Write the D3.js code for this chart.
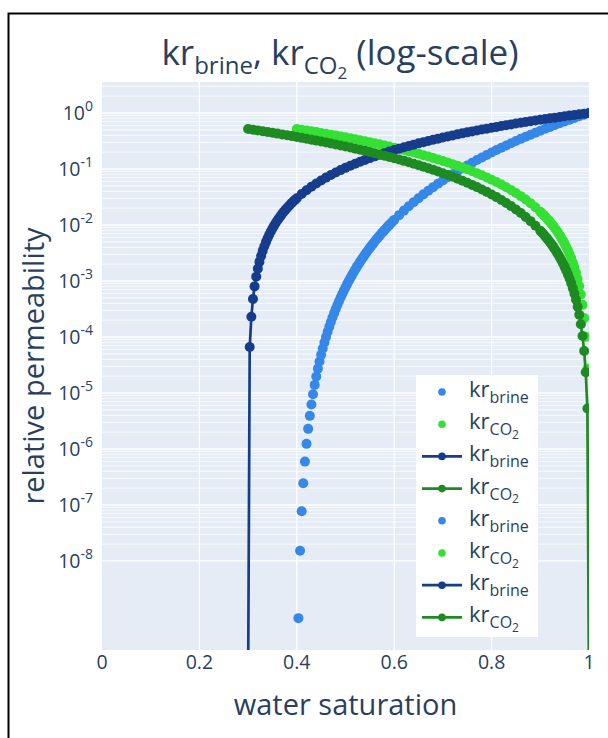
<!DOCTYPE html>
<html>
<head>
<meta charset="utf-8">
<script src="https://cdn.jsdelivr.net/npm/d3@7"></script>
<style>
  body { margin: 0; background: #fff; }
  text { font-family: "Open Sans", sans-serif; fill: #2a3f5f; }
</style>
</head>
<body>
<svg id="chart" width="608" height="738"></svg>
<script>
// ---- relative permeability data (water saturation vs kr) ----

// brine, residual water saturation 0.4 (markers only)
const satBrineA = [0.4033,0.4067,0.41,0.4133,0.4167,0.42,0.4233,0.4267,0.43,0.4333,0.4367,0.44,0.4433,0.4467,0.45,0.4533,0.4567,0.46,0.4633,0.4667,0.47,0.4733,0.4767,0.48,0.4833,0.4867,0.49,0.4933,0.4967,0.5,0.5033,0.5067,0.51,0.5133,0.5167,0.52,0.5233,0.5267,0.53,0.5333,0.5367,0.54,0.5433,0.5467,0.55,0.5533,0.5567,0.56,0.5633,0.5667,0.57,0.5733,0.5767,0.58,0.5833,0.5867,0.59,0.5933,0.5967,0.6,
  0.61,0.62,0.63,0.64,0.65,0.66,0.67,0.68,0.69,0.70,0.71,0.72,0.73,0.74,0.75,0.76,0.77,0.78,0.79,0.80,0.81,0.82,0.83,0.84,0.85,0.86,0.87,0.88,0.89,0.90,0.91,0.92,0.93,0.94,0.95,0.96,0.97,0.98,0.99,1.0];
const krBrineA = [9.53e-10,1.524e-8,7.716e-8,2.439e-7,5.954e-7,1.235e-6,2.287e-6,3.902e-6,6.250e-6,9.526e-6,1.395e-5,1.975e-5,2.721e-5,3.660e-5,4.823e-5,6.243e-5,7.956e-5,1.0e-4,1.241e-4,1.524e-4,1.853e-4,2.232e-4,2.666e-4,3.161e-4,3.721e-4,4.353e-4,5.063e-4,5.855e-4,6.738e-4,7.716e-4,8.797e-4,9.989e-4,1.1297e-3,1.273e-3,1.4295e-3,1.6e-3,1.7853e-3,1.9863e-3,2.2038e-3,2.4387e-3,2.6918e-3,2.9642e-3,3.2568e-3,3.5704e-3,3.9062e-3,4.2652e-3,4.6483e-3,5.0568e-3,5.4916e-3,5.9537e-3,6.4445e-3,6.965e-3,7.5164e-3,8.1e-3,8.7169e-3,9.3683e-3,1.00556e-2,1.078e-2,1.1543e-2,1.2346e-2,
  0.015006,0.018075,0.021593,0.0256,0.030141,0.03526,0.041006,0.047427,0.054574,0.0625,0.071259,0.080909,0.091506,0.103112,0.115789,0.1296,0.144611,0.16089,0.178506,0.197531,0.218037,0.2401,0.263796,0.289205,0.316406,0.345483,0.376519,0.4096,0.444815,0.482253,0.522006,0.564168,0.608834,0.6561,0.706067,0.758834,0.814506,0.873186,0.934981,1];

// CO2, residual water saturation 0.4 (markers only)
const satCO2A = [0.40,0.41,0.42,0.43,0.44,0.45,0.46,0.47,0.48,0.49,0.50,0.51,0.52,0.53,0.54,0.55,0.56,0.57,0.58,0.59,0.60,0.61,0.62,0.63,0.64,0.65,0.66,0.67,0.68,0.69,0.70,0.71,0.72,0.73,0.74,0.75,0.76,0.77,0.78,0.79,0.80,0.81,0.82,0.83,0.84,0.85,0.86,0.87,0.88,0.89,0.90,
  0.9033,0.9067,0.91,0.9133,0.9167,0.92,0.9233,0.9267,0.93,0.9333,0.9367,0.94,0.9433,0.9467,0.95,0.9533,0.9567,0.96,0.9633,0.9667,0.97,0.9733,0.9767,0.98,0.9833,0.9867,0.99,0.9933,0.9967];
const krCO2A = [0.5200,0.5037,0.4876,0.4717,0.4561,0.4408,0.4257,0.4108,0.3962,0.3818,0.3677,0.3539,0.3403,0.3269,0.3139,0.3010,0.2885,0.2761,0.2641,0.2522,0.2407,0.2294,0.2183,0.2075,0.1970,0.1867,0.1767,0.1670,0.1575,0.1483,0.1393,0.1306,0.1222,0.1141,0.1062,0.09854,0.09119,0.08410,0.07729,0.07077,0.06449,0.05850,0.05279,0.04736,0.04220,0.03733,0.03275,0.02845,0.02443,0.02071,0.01728,
  0.016204,0.015155,0.014147,0.013165,0.012221,0.011309,0.010430,0.009585,0.008772,0.007997,0.007256,0.006546,0.005873,0.005234,0.004630,0.004061,0.003527,0.003030,0.002568,0.002143,0.001754,0.001402,0.001088,0.000812,0.000574,0.000376,0.0002175,0.0001007,2.698e-5];

// brine, residual water saturation 0.3 (lines + markers)
const satBrineB = [0.3,0.3033,0.3067,0.31,0.3133,0.3167,0.32,0.3233,0.3267,0.33,0.3333,0.3367,0.34,0.3433,0.3467,0.35,0.3533,0.3567,0.36,0.3633,0.3667,0.37,0.3733,0.3767,0.38,0.3833,0.3867,0.39,0.3933,0.3967,0.4,
  0.41,0.42,0.43,0.44,0.45,0.46,0.47,0.48,0.49,0.50,0.51,0.52,0.53,0.54,0.55,0.56,0.57,0.58,0.59,0.60,0.61,0.62,0.63,0.64,0.65,0.66,0.67,0.68,0.69,0.70,0.71,0.72,0.73,0.74,0.75,0.76,0.77,0.78,0.79,0.80,0.81,0.82,0.83,0.84,0.85,0.86,0.87,0.88,0.89,0.90,0.91,0.92,0.93,0.94,0.95,0.96,0.97,0.98,0.99,1.0];
const krBrineB = [0,6.607e-5,2.301e-4,4.773e-4,8.013e-4,1.197e-3,1.662e-3,2.194e-3,2.791e-3,3.449e-3,4.169e-3,4.950e-3,5.788e-3,6.685e-3,7.640e-3,8.649e-3,9.715e-3,1.0834e-2,1.2007e-2,1.3236e-2,1.4512e-2,1.5849e-2,1.7233e-2,1.8665e-2,2.0156e-2,2.169e-2,2.328e-2,2.492e-2,2.660e-2,2.834e-2,3.012e-2,
  0.03574,0.04182,0.04830,0.05519,0.06249,0.07020,0.07828,0.08676,0.09563,0.10487,0.11451,0.12449,0.13488,0.14561,0.15671,0.16817,0.18000,0.19216,0.20471,0.21760,0.23085,0.24443,0.25835,0.27257,0.28717,0.30210,0.31738,0.33297,0.34891,0.36518,0.38177,0.39871,0.41598,0.43355,0.45144,0.46968,0.48822,0.50706,0.52625,0.54573,0.56551,0.58558,0.60602,0.62681,0.64788,0.66925,0.69093,0.71293,0.73521,0.75778,0.78058,0.80375,0.82722,0.85103,0.87514,0.89953,0.92418,0.94918,0.97443,1];

// CO2, residual water saturation 0.3 (lines + markers)
const satCO2B = [0.30,0.31,0.32,0.33,0.34,0.35,0.36,0.37,0.38,0.39,0.40,0.41,0.42,0.43,0.44,0.45,0.46,0.47,0.48,0.49,0.50,0.51,0.52,0.53,0.54,0.55,0.56,0.57,0.58,0.59,0.60,0.61,0.62,0.63,0.64,0.65,0.66,0.67,0.68,0.69,0.70,0.71,0.72,0.73,0.74,0.75,0.76,0.77,0.78,0.79,0.80,0.81,0.82,0.83,0.84,0.85,0.86,0.87,0.88,0.89,0.90,
  0.9033,0.9067,0.91,0.9133,0.9167,0.92,0.9233,0.9267,0.93,0.9333,0.9367,0.94,0.9433,0.9467,0.95,0.9533,0.9567,0.96,0.9633,0.9667,0.97,0.9733,0.9767,0.98,0.9833,0.9867,0.99,0.9933,0.9967,1.0];
const krCO2B = [0.5200,0.5042,0.4886,0.4733,0.4582,0.4434,0.4289,0.4146,0.4006,0.3868,0.3733,0.3600,0.3471,0.3343,0.3218,0.3096,0.2976,0.2859,0.2744,0.2632,0.2522,0.2415,0.2311,0.2208,0.2109,0.2011,0.1916,0.1824,0.1734,0.1646,0.1561,0.1478,0.1398,0.1320,0.1245,0.1172,0.1101,0.1032,0.09663,0.09026,0.08411,0.07820,0.07253,0.06706,0.06184,0.05683,0.05206,0.04751,0.04318,0.03907,0.03517,0.03150,0.02805,0.02480,0.02177,0.01895,0.01634,0.01393,0.01173,0.009728,0.007926,
  7.370e-3,6.834e-3,6.319e-3,5.826e-3,5.356e-3,4.906e-3,4.477e-3,4.069e-3,3.681e-3,3.315e-3,2.969e-3,2.643e-3,2.338e-3,2.052e-3,1.786e-3,1.539e-3,1.313e-3,1.105e-3,9.167e-4,7.469e-4,5.955e-4,4.622e-4,3.469e-4,2.490e-4,1.683e-4,1.042e-4,5.611e-5,2.347e-5,5.287e-6,0];

// axis ticks
const xTicks = [0, 0.2, 0.4, 0.6, 0.8, 1];
const yTickExponents = [0, -1, -2, -3, -4, -5, -6, -7, -8];
const yMinorDecades = [-8, -7, -6, -5, -4, -3, -2, -1, 0];
const yMinorMultiples = [2, 3, 4, 5, 6, 7, 8, 9];

// legend entries (each trace appears twice)
const legendNames = ["brine", "CO2", "brine", "CO2", "brine", "CO2", "brine", "CO2"];
const legendModes = ["markers", "markers", "lines+markers", "lines+markers", "markers", "markers", "lines+markers", "lines+markers"];

// ---- styling ----
const COLORS = { brineA: "#3587e8", co2A: "#35e035", brineB: "#163d8c", co2B: "#1e8b22" };
const legendColors = [COLORS.brineA, COLORS.co2A, COLORS.brineB, COLORS.co2B, COLORS.brineA, COLORS.co2A, COLORS.brineB, COLORS.co2B];
const plot = { left: 102, right: 589, top: 82, bottom: 650 };
const markerR = 5;

const svg = d3.select("#chart");

// outer frame
svg.append("rect").attr("x", 8.5).attr("y", 13.5).attr("width", 640).attr("height", 760)
  .attr("fill", "none").attr("stroke", "#000").attr("stroke-width", 2);

const x = d3.scaleLinear().domain([0, 1]).range([plot.left, plot.right]);
const y = d3.scaleLog().domain([Math.pow(10, -9.59), Math.pow(10, 0.554)]).range([plot.bottom, plot.top]);

// plot background
svg.append("rect").attr("x", plot.left).attr("y", plot.top)
  .attr("width", plot.right - plot.left).attr("height", plot.bottom - plot.top)
  .attr("fill", "#e5ecf6");

const grid = svg.append("g");
// minor log gridlines
yMinorDecades.forEach(e => {
  yMinorMultiples.forEach(m => {
    const v = m * Math.pow(10, e);
    const py = y(v);
    if (py < plot.top || py > plot.bottom) return;
    grid.append("line").attr("x1", plot.left).attr("x2", plot.right)
      .attr("y1", py).attr("y2", py).attr("stroke", "#fff").attr("stroke-opacity", 0.75).attr("stroke-width", 1);
  });
});
// major gridlines
yTickExponents.forEach(e => {
  const py = y(Math.pow(10, e));
  grid.append("line").attr("x1", plot.left).attr("x2", plot.right)
    .attr("y1", py).attr("y2", py).attr("stroke", "#fff").attr("stroke-width", 1.3);
});
xTicks.forEach(t => {
  if (t === 0 || t === 1) return;
  grid.append("line").attr("x1", x(t)).attr("x2", x(t))
    .attr("y1", plot.top).attr("y2", plot.bottom).attr("stroke", "#fff").attr("stroke-width", 1.3);
});

// clip for traces
svg.append("clipPath").attr("id", "plotclip").append("rect")
  .attr("x", plot.left).attr("y", plot.top)
  .attr("width", plot.right - plot.left).attr("height", plot.bottom - plot.top);

const traces = [
  { sat: satBrineA, kr: krBrineA, mode: "markers", color: COLORS.brineA },
  { sat: satCO2A, kr: krCO2A, mode: "markers", color: COLORS.co2A },
  { sat: satBrineB, kr: krBrineB, mode: "lines+markers", color: COLORS.brineB },
  { sat: satCO2B, kr: krCO2B, mode: "lines+markers", color: COLORS.co2B }
];

const gTraces = svg.append("g").attr("clip-path", "url(#plotclip)");
const yOf = v => v > 0 ? y(v) : plot.bottom + 40;
const line = d3.line().x(d => x(d[0])).y(d => yOf(d[1]));

traces.forEach(tr => {
  const pts = tr.sat.map((s, i) => [s, tr.kr[i]]);
  const g = gTraces.append("g");
  if (tr.mode.indexOf("lines") >= 0) {
    g.append("path").datum(pts).attr("d", line)
      .attr("fill", "none").attr("stroke", tr.color).attr("stroke-width", 2.7);
  }
  g.selectAll("circle").data(pts.filter(p => p[1] > 0)).join("circle")
    .attr("cx", d => x(d[0])).attr("cy", d => y(d[1])).attr("r", markerR)
    .attr("fill", tr.color);
});

// x tick labels
const xFmt = d3.format("~g");
svg.append("g").selectAll("text").data(xTicks).join("text")
  .attr("x", d => x(d)).attr("y", plot.bottom + 19)
  .attr("text-anchor", "middle").attr("font-size", 19.5)
  .text(d => xFmt(d));

// y tick labels as powers of ten
const yLab = svg.append("g");
yTickExponents.forEach(e => {
  const t = yLab.append("text").attr("x", 93).attr("y", y(Math.pow(10, e)) + 7)
    .attr("text-anchor", "end").attr("font-size", 19.5);
  t.append("tspan").text("10");
  t.append("tspan").attr("font-size", 14).attr("dy", -9).text(e === 0 ? "0" : "-" + Math.abs(e));
});

// axis titles
svg.append("text").attr("x", (plot.left + plot.right) / 2).attr("y", 715)
  .attr("text-anchor", "middle").attr("font-size", 29).text("water saturation");
svg.append("text").attr("transform", `translate(44,${(plot.top + plot.bottom) / 2}) rotate(-90)`)
  .attr("text-anchor", "middle").attr("font-size", 29).text("relative permeability");

// kr label with subscript (CO2 gets a nested subscript)
function krLabel(sel, name, big, sub, subsub, shift) {
  sel.append("tspan").attr("font-size", big).text("kr");
  if (name === "CO2") {
    sel.append("tspan").attr("font-size", sub).attr("dy", shift).text("CO");
    sel.append("tspan").attr("font-size", subsub).attr("dy", shift * 0.6).text("2");
    return shift * 1.6;
  }
  sel.append("tspan").attr("font-size", sub).attr("dy", shift).text(name);
  return shift;
}

// title
const title = svg.append("text").attr("x", 340).attr("y", 65).attr("text-anchor", "middle");
let off = krLabel(title, "brine", 35, 24, 17, 9);
title.append("tspan").attr("font-size", 35).attr("dy", -off).text(",");
title.append("tspan").attr("font-size", 35).text(" ");
off = krLabel(title, "CO2", 35, 24, 17, 9);
title.append("tspan").attr("font-size", 35).attr("dy", -off).text(" (log-scale)");

// legend
const lg = svg.append("g");
lg.append("rect").attr("x", 416).attr("y", 375).attr("width", 122).attr("height", 262).attr("fill", "#fff");
legendNames.forEach((nm, i) => {
  const cy = 392 + i * 32.2;
  const col = legendColors[i];
  if (legendModes[i].indexOf("lines") >= 0) {
    lg.append("line").attr("x1", 422).attr("x2", 462).attr("y1", cy).attr("y2", cy)
      .attr("stroke", col).attr("stroke-width", 2.7);
  }
  lg.append("circle").attr("cx", 442).attr("cy", cy).attr("r", 3.8).attr("fill", col);
  const t = lg.append("text").attr("x", 469).attr("y", cy + 5);
  krLabel(t, nm, 22, 16, 12, 6);
});
</script>
</body>
</html>
